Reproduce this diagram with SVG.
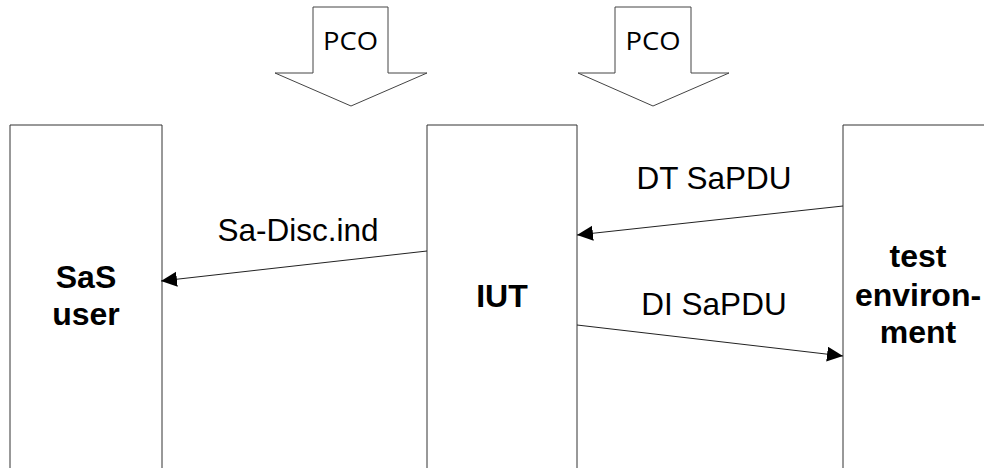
<svg xmlns="http://www.w3.org/2000/svg" width="984" height="468" viewBox="0 0 984 468">
<style>
.box{fill:#fff;stroke:#333;stroke-width:1}
.pco{fill:#fff;stroke:#444;stroke-width:1}
.pcot{font-family:"Open Sans","Noto Sans",sans-serif;font-size:26px;fill:#000;text-anchor:middle}
.lbl{font-family:"Liberation Sans",Arial,sans-serif;font-size:31.5px;fill:#000;text-anchor:middle}
.node{font-family:"Liberation Sans",Arial,sans-serif;font-size:32px;font-weight:bold;fill:#000;text-anchor:middle}
.conn{stroke:#222;stroke-width:1;fill:none;marker-end:url(#ah)}
</style>
<defs>
<marker id="ah" markerUnits="userSpaceOnUse" markerWidth="18" markerHeight="16" refX="16" refY="7.5" orient="auto">
<path d="M0,0 L16,7.5 L0,15 Z" fill="#000"/>
</marker>
</defs>
<rect width="984" height="468" fill="#fff"/>
<g id="pco1">
<path class="pco" d="M313,7 H388 V73 H427 L351,106 L275,73 H313 Z"/>
<text class="pcot" x="350.5" y="50" textLength="55" lengthAdjust="spacingAndGlyphs">PCO</text>
</g>
<g id="pco2">
<path class="pco" d="M615,7 H691 V73 H729 L653,106 L578,73 H615 Z"/>
<text class="pcot" x="653" y="50" textLength="55" lengthAdjust="spacingAndGlyphs">PCO</text>
</g>
<g id="sas-user">
<path class="box" d="M10,470 V125 H162 V470"/>
<text class="node" x="86" y="288">SaS</text>
<text class="node" x="86" y="325">user</text>
</g>
<g id="iut">
<path class="box" d="M427,470 V125 H577 V470"/>
<text class="node" x="502" y="307">IUT</text>
</g>
<g id="test-env">
<path class="box" d="M843,470 V125 H990"/>
<text class="node" x="918" y="267">test</text>
<text class="node" x="918" y="306">environ-</text>
<text class="node" x="918" y="343">ment</text>
</g>
<g id="connectors">
<line class="conn" x1="427" y1="251" x2="161" y2="281"/>
<text class="lbl" x="298" y="241">Sa-Disc.ind</text>
<line class="conn" x1="843" y1="206" x2="577" y2="235"/>
<text class="lbl" x="714" y="189">DT SaPDU</text>
<line class="conn" x1="577" y1="325" x2="843" y2="356"/>
<text class="lbl" x="714" y="315">DI SaPDU</text>
</g>
</svg>
